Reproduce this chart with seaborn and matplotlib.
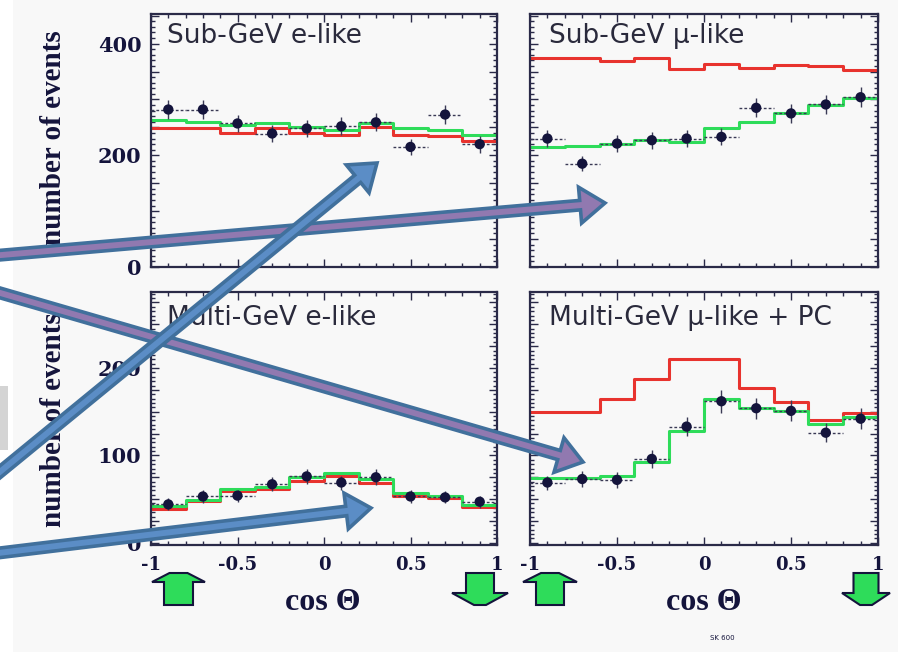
import numpy as np
import pandas as pd
import matplotlib
matplotlib.use("Agg")
import matplotlib.pyplot as plt
import seaborn as sns
from matplotlib.patches import FancyArrow, Polygon, Rectangle
from matplotlib.ticker import MultipleLocator, FuncFormatter

# bins in cos(theta)
edges = [-1.0, -0.8, -0.6, -0.4, -0.2, 0.0, 0.2, 0.4, 0.6, 0.8, 1.0]
centers = [-0.9, -0.7, -0.5, -0.3, -0.1, 0.1, 0.3, 0.5, 0.7, 0.9]

# Sub-GeV e-like
sub_e_data = [282, 282, 257, 239, 248, 252, 259, 215, 273, 220]
sub_e_err = [17, 17, 16, 15, 16, 16, 16, 15, 17, 15]
sub_e_osc = [264, 260, 254, 258, 251, 245, 257, 249, 246, 237]
sub_e_null = [248, 248, 240, 248, 240, 236, 250, 236, 234, 226]

# Sub-GeV mu-like
sub_mu_data = [230, 185, 221, 227, 230, 233, 285, 275, 291, 304]
sub_mu_err = [15, 14, 15, 15, 15, 15, 17, 17, 17, 18]
sub_mu_osc = [215, 217, 220, 227, 224, 248, 260, 276, 290, 303]
sub_mu_null = [375, 375, 369, 374, 355, 363, 357, 362, 359, 353]

# Multi-GeV e-like
multi_e_data = [44, 53, 54, 67, 76, 69, 75, 53, 52, 47]
multi_e_err = [7, 7, 7, 8, 9, 8, 9, 7, 7, 7]
multi_e_osc = [42, 49, 62, 64, 75, 80, 73, 57, 54, 43]
multi_e_null = [39, 48, 59, 62, 71, 76, 69, 54, 51, 41]

# Multi-GeV mu-like + PC
multi_mu_data = [69, 73, 72, 96, 133, 162, 154, 151, 126, 142]
multi_mu_err = [8, 9, 9, 10, 11, 13, 12, 12, 11, 12]
multi_mu_osc = [74, 74, 76, 92, 128, 165, 154, 151, 136, 144]
multi_mu_null = [150, 150, 164, 188, 210, 210, 177, 161, 140, 148]

titles = ["Sub-GeV e-like", "Sub-GeV \u03bc-like",
          "Multi-GeV e-like", "Multi-GeV \u03bc-like + PC"]

sns.set_style("ticks")

W, H = 909, 652
fig = plt.figure(figsize=(W / 100, H / 100), dpi=100)
fig.patch.set_facecolor("white")

frame = "#2a2a48"
navy = "#14143c"
red = "#e8332e"
green = "#2edc5a"
panel_bg = "#f8f8f8"

# light grey slide background
bg = fig.add_axes([0, 0, 1, 1], zorder=-5)
bg.set_xlim(0, W)
bg.set_ylim(H, 0)
bg.axis("off")
bg.add_patch(Rectangle((13, 0), 885, H, color=panel_bg, lw=0))
bg.add_patch(Rectangle((0, 386), 8, 64, color="#d4d4d4", lw=0))


def px_axes(x0, y0, x1, y1):
    return fig.add_axes([x0 / W, 1 - y1 / H, (x1 - x0) / W, (y1 - y0) / H])


ax_tl = px_axes(151, 14, 497, 267)
ax_tr = px_axes(530, 14, 878, 267)
ax_bl = px_axes(151, 292, 497, 545)
ax_br = px_axes(530, 292, 878, 545)

panels = [
    (ax_tl, sub_e_data, sub_e_err, sub_e_osc, sub_e_null),
    (ax_tr, sub_mu_data, sub_mu_err, sub_mu_osc, sub_mu_null),
    (ax_bl, multi_e_data, multi_e_err, multi_e_osc, multi_e_null),
    (ax_br, multi_mu_data, multi_mu_err, multi_mu_osc, multi_mu_null),
]

for i, (ax, dat, err, osc, null) in enumerate(panels):
    ax.set_facecolor(panel_bg)
    sns.histplot(x=centers, weights=null, bins=edges, element="step",
                 fill=False, color=red, linewidth=2.2, ax=ax)
    sns.histplot(x=centers, weights=osc, bins=edges, element="step",
                 fill=False, color=green, linewidth=2.2, ax=ax)
    eb = ax.errorbar(centers, dat, yerr=err, xerr=0.1, fmt="none",
                     ecolor="#3a3a55", elinewidth=1.0, zorder=4)
    eb[2][0].set_linestyle((0, (2, 1.5)))
    sns.scatterplot(x=centers, y=dat, color=navy, s=55, edgecolor="none",
                    zorder=5, ax=ax)

    ax.set_xlim(-1, 1)
    top = i < 2
    if top:
        ax.set_ylim(0, 453)
        ax.yaxis.set_major_locator(MultipleLocator(50))
        ax.yaxis.set_minor_locator(MultipleLocator(10))
        ylab = [0, 200, 400]
    else:
        ax.set_ylim(-2.5, 287)
        ax.yaxis.set_major_locator(MultipleLocator(25))
        ax.yaxis.set_minor_locator(MultipleLocator(5))
        ylab = [0, 100, 200]
    ax.yaxis.set_major_formatter(
        FuncFormatter(lambda v, p, ylab=ylab: f"{int(round(v))}" if int(round(v)) in ylab and abs(v - round(v)) < 1e-6 else ""))
    ax.xaxis.set_major_locator(MultipleLocator(0.5))
    ax.xaxis.set_minor_locator(MultipleLocator(0.1))
    ax.xaxis.set_major_formatter(FuncFormatter(lambda v, p: "0" if abs(v) < 1e-9 else f"{v:g}"))

    ax.tick_params(which="both", direction="in", top=True, right=True,
                   color=frame, width=1.0)
    ax.tick_params(which="major", length=6)
    ax.tick_params(which="minor", length=3)
    ax.tick_params(axis="y", labelsize=15, pad=7, labelcolor=navy)
    ax.tick_params(axis="x", labelsize=13, pad=8, labelcolor=navy)
    for lab in ax.get_xticklabels() + ax.get_yticklabels():
        lab.set_family("DejaVu Serif")
        lab.set_fontweight("bold")
    if top:
        ax.tick_params(axis="x", labelbottom=False)
    if i % 2 == 1:
        ax.tick_params(axis="y", labelleft=False)
    for s in ax.spines.values():
        s.set_color(frame)
        s.set_linewidth(1.6)
    ax.set_xlabel("")
    ax.set_ylabel("")

    tx = 0.046 if i % 2 == 0 else 0.055
    ty = 0.885 if top else 0.87
    ax.text(tx, ty, titles[i], transform=ax.transAxes, fontsize=19,
            family="DejaVu Sans", color="#2a2a3c", va="baseline", clip_on=True)

# axis labels
for y in [138, 420]:
    fig.text(54 / W, 1 - y / H, "number of events", rotation=90,
             ha="center", va="center", fontsize=21, fontweight="bold",
             family="Liberation Serif", color=navy)
for x in [323, 704]:
    fig.text(x / W, 1 - 610 / H, "cos \u0398", ha="center", va="baseline",
             fontsize=23, fontweight="bold", family="Liberation Serif",
             color=navy)
fig.text(722 / W, 1 - 640 / H, "SK 600", ha="center", fontsize=5,
         color=navy)

# overlay: annotation arrows in pixel coordinates
ov = fig.add_axes([0, 0, 1, 1], zorder=10)
ov.set_xlim(0, W)
ov.set_ylim(H, 0)
ov.axis("off")
ov.patch.set_alpha(0)

# up / down arrows below the axes
up_arrows = [(178.5, 26.5, 14.5), (550, 27, 14)]
down_arrows = [(480, 28, 14), (866, 24, 12.5)]
for cx, hw, sw in up_arrows:
    pts = [(cx - sw, 605), (cx - sw, 582), (cx - hw, 582), (cx - 9, 573),
           (cx + 9, 573), (cx + hw, 582), (cx + sw, 582), (cx + sw, 605)]
    ov.add_patch(Polygon(pts, closed=True, fc=green, ec=navy, lw=1.5))
for cx, hw, sw in down_arrows:
    pts = [(cx - sw, 573), (cx + sw, 573), (cx + sw, 593), (cx + hw, 593),
           (cx + 6, 605), (cx - 6, 605), (cx - hw, 593), (cx - sw, 593)]
    ov.add_patch(Polygon(pts, closed=True, fc=green, ec=navy, lw=1.5))

edge_c = "#41709c"
purple = "#9179b0"
blue = "#5b8dc6"
big_arrows = [
    ((-10, 256), (605, 203), purple),
    ((-10, 290), (583, 462), purple),
    ((-10, 480), (377, 163), blue),
    ((-10, 554), (371, 508), blue),
]
for (x0, y0), (x1, y1), fc in big_arrows:
    ov.add_patch(FancyArrow(x0, y0, x1 - x0, y1 - y0, width=9.5,
                            head_width=36, head_length=25,
                            length_includes_head=True, fc=fc, ec=edge_c,
                            lw=2.6, joinstyle="miter"))

fig.savefig("out.png", dpi=100, facecolor="white")
